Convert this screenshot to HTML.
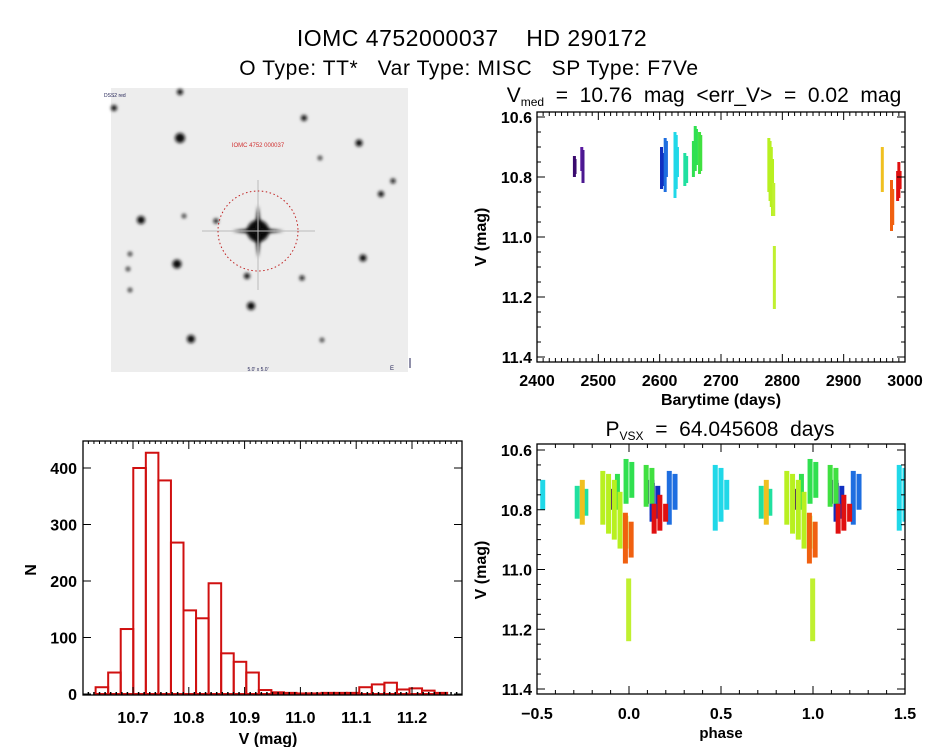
<!DOCTYPE html>
<html><head><meta charset="utf-8"><style>
body{margin:0;background:#fff;}
svg{display:block;font-family:"Liberation Sans",sans-serif;}
.pre{white-space:pre;}
</style></head><body>
<svg id="s" width="944" height="747" viewBox="0 0 944 747" xmlns="http://www.w3.org/2000/svg">
<defs>
<filter id="blur1"><feGaussianBlur stdDeviation="1.6"/></filter>
</defs>
<text class="pre" x="472" y="46" font-size="23" letter-spacing="0.5" text-anchor="middle">IOMC 4752000037    HD 290172</text>
<text class="pre" x="469" y="75" font-size="21" letter-spacing="0.6" text-anchor="middle">O Type: TT*   Var Type: MISC   SP Type: F7Ve</text>
<g>
<rect x="111" y="88" width="297" height="284" fill="#ededed"/>
<g id="stars" filter="url(#blur1)"></g>
<g fill="#111"><path d="M258 205 L261 228 L284 231 L261 234 L258 258 L255 234 L232 231 L255 228 Z" filter="url(#blur1)"/></g>
<line x1="202" y1="231" x2="315" y2="231" stroke="#bbb" stroke-width="1"/>
<line x1="258" y1="180" x2="258" y2="290" stroke="#bbb" stroke-width="1"/>
<circle cx="258" cy="231" r="40" fill="none" stroke="#c02020" stroke-width="1" stroke-dasharray="1.5 2.5"/>
<text x="258" y="147" font-size="6" fill="#d03030" text-anchor="middle">IOMC 4752 000037</text>
<text x="104" y="97" font-size="5" fill="#225">DSS2 red</text>
<text x="258" y="371" font-size="5" fill="#225" text-anchor="middle">5.0' x 5.0'</text>
<text x="390" y="370" font-size="6" fill="#225">E</text>
<line x1="410" y1="358" x2="410" y2="368" stroke="#225"/>
</g>
<g id="tr"></g><g id="br"></g><g id="hist"></g>
</svg>
<script>
// ---- light curve data: one entry per observing night ----
const nightTimes = [2461,2462,2473,2475,2603,2605,2609,2611,2625,2627,2629,2641,2644,2655,2658,2660,2665,2667,2778,2780,2782,2784,2786,2787,2963,2978,2980,2988,2990,2992];
const nightMin   = [10.73,10.74,10.70,10.71,10.70,10.72,10.67,10.68,10.65,10.66,10.70,10.72,10.73,10.68,10.63,10.64,10.65,10.66,10.67,10.68,10.70,10.74,10.82,11.03,10.70,10.81,10.84,10.78,10.75,10.78];
const nightMax   = [10.80,10.79,10.78,10.82,10.84,10.83,10.85,10.80,10.87,10.84,10.80,10.83,10.82,10.80,10.78,10.76,10.79,10.78,10.85,10.88,10.90,10.93,10.93,11.24,10.85,10.98,10.96,10.88,10.87,10.84];
const nightColor = ["#3a0a6e","#3a0a6e","#5a1aa0","#4b1890","#1030c0","#1030c0","#1e6ee0","#1e6ee0","#20d8e8","#20d8e8","#20d8e8","#20e0a0","#20e0a0","#30e050","#30e050","#30e050","#40e040","#40e040","#b8f020","#b8f020","#b8f020","#b8f020","#c0f030","#c0f030","#f0c020","#f06010","#f06010","#e01010","#e01010","#e01010"];
const period = 64.045608;
const epoch = 2594.98;
// ---- histogram data ----
const binStart = 10.633, binWidth = 0.0225;
const binCounts = [12,38,115,400,427,378,268,148,134,196,72,57,38,7,3,2,1,1,2,2,2,12,17,20,8,10,6,2];
const histXTicks = ["10.7","10.8","10.9","11.0","11.1","11.2"];
const histYTicks = [0,100,200,300,400];
const magTicks = ["10.6","10.8","11.0","11.2","11.4"];
const timeTicks = [2400,2500,2600,2700,2800,2900,3000];
const phaseTicks = ["-0.5","0.0","0.5","1.0","1.5"];

const NS="http://www.w3.org/2000/svg";
function mk(tag,attrs,parent,txt){const e=document.createElementNS(NS,tag);for(const k in attrs)e.setAttribute(k,attrs[k]);if(txt!==undefined)e.textContent=txt;parent.appendChild(e);return e;}

const starG=document.getElementById('stars');
[[180,138,5],[141,220,4],[177,264,4.5],[191,339,4],[251,306,4],[247,276,3],[363,258,3.5],[359,143,3.5],[304,118,3],[381,194,3],[393,181,2.5],[302,278,2.5],[322,340,2],[184,216,2],[216,221,2.5],[130,254,2],[128,269,2],[130,290,2],[114,108,3],[180,92,3],[320,158,2],[258,231,11]].forEach(s=>{mk('circle',{cx:s[0],cy:s[1],r:s[2],fill:'#111'},starG);});

function frame(g,x0,y0,x1,y1,name){
  const r=mk('rect',{x:x0,y:y0,width:x1-x0,height:y1-y0,fill:'none',stroke:'#000','stroke-width':1.3},g);
  
  
}
function magAxis(g,x0,x1,ymap){
  for(let m=10.6;m<=11.401;m+=0.05){const y=ymap(m);const maj=Math.abs(Math.round(m*10)/10-m)<1e-6&&Math.round(m*10)%2===0;const L=maj?8:4;
    mk('line',{x1:x0,y1:y,x2:x0+L,y2:y,stroke:'#000'},g);mk('line',{x1:x1,y1:y,x2:x1-L,y2:y,stroke:'#000'},g);}
  magTicks.forEach(t=>{const lab=mk('text',{x:x0-5,y:ymap(+t)+6,'font-size':16,'text-anchor':'end','font-weight':'bold'},g,t);
    });
}

// ---- top-right: light curve ----
(function(){
  const g=document.getElementById('tr');
  const X0=537,X1=905,Y0=112,Y1=362;
  const xs=t=>X0+(t-2400)/600*(X1-X0);
  const ys=m=>117+(m-10.6)/0.8*(357-117);
  nightTimes.forEach((t,i)=>{
    const r=mk('rect',{x:xs(t)-1.5,y:ys(nightMin[i]),width:3,height:ys(nightMax[i])-ys(nightMin[i]),fill:nightColor[i]},g);
    
    
  });
  frame(g,X0,Y0,X1,Y1,'lightcurve-frame');
  magAxis(g,X0,X1,ys);
  for(let t=2400;t<=3000;t+=10){const x=xs(t);const L=t%100===0?8:4;mk('line',{x1:x,y1:Y1,x2:x,y2:Y1-L,stroke:'#000'},g);mk('line',{x1:x,y1:Y0,x2:x,y2:Y0+L,stroke:'#000'},g);}
  timeTicks.forEach(t=>{const l=mk('text',{x:xs(t),y:386,'font-size':16,'text-anchor':'middle','font-weight':'bold'},g,t);});
  const xt=mk('text',{x:721,y:405,'font-size':16,'text-anchor':'middle','font-weight':'bold'},g,'Barytime (days)');
  const yt=mk('text',{x:0,y:0,'font-size':16,'text-anchor':'middle','font-weight':'bold',transform:'translate(486,237) rotate(-90)'},g,'V (mag)');
  const tt=mk('text',{x:704,y:102,'font-size':21,'text-anchor':'middle',class:'pre'},g);
  mk('tspan',{},tt,'V');mk('tspan',{'font-size':12,dy:4},tt,'med');mk('tspan',{dy:-4},tt,'  =  10.76  mag  <err_V>  =  0.02  mag');
})();

// ---- bottom-right: phased ----
(function(){
  const g=document.getElementById('br');
  const X0=537,X1=905,Y0=444,Y1=694;
  const xs=p=>X0+(p+0.5)/2*(X1-X0);
  const ys=m=>450+(m-10.6)/0.8*(689-450);
  nightTimes.forEach((t,i)=>{
    let ph=((t-epoch)/period)%1; if(ph<0)ph+=1;
    [ph-1,ph,ph+1].forEach(p=>{ if(p<-0.5||p>1.5) return;
      const x=Math.max(X0,xs(p)-2.5);
      const r=mk('rect',{x:x,y:ys(nightMin[i]),width:Math.min(5,X1-x),height:ys(nightMax[i])-ys(nightMin[i]),fill:nightColor[i]},g);
      
      
    });
  });
  frame(g,X0,Y0,X1,Y1,'phase-frame');
  magAxis(g,X0,X1,ys);
  for(let k=0;k<=20;k++){const p=-0.5+k*0.1;const x=xs(p);const L=k%5===0?8:4;mk('line',{x1:x,y1:Y1,x2:x,y2:Y1-L,stroke:'#000'},g);mk('line',{x1:x,y1:Y0,x2:x,y2:Y0+L,stroke:'#000'},g);}
  phaseTicks.forEach(t=>{const l=mk('text',{x:xs(+t),y:719,'font-size':16,'text-anchor':'middle','font-weight':'bold'},g,t.replace('-','−'));});
  const xt=mk('text',{x:721,y:738,'font-size':15,'text-anchor':'middle','font-weight':'bold'},g,'phase');
  const yt=mk('text',{x:0,y:0,'font-size':16,'text-anchor':'middle','font-weight':'bold',transform:'translate(486,570) rotate(-90)'},g,'V (mag)');
  const tt=mk('text',{x:720,y:436,'font-size':21,'text-anchor':'middle',class:'pre'},g);
  mk('tspan',{},tt,'P');mk('tspan',{'font-size':12,dy:4},tt,'VSX');mk('tspan',{dy:-4},tt,'  =  64.045608  days');
})();

// ---- histogram ----
(function(){
  const g=document.getElementById('hist');
  const X0=83,X1=462,Y0=441,Y1=695;
  const xs=v=>133+(v-10.7)/0.1*55.8;
  const ys=n=>694-n*(694-468)/400;
  binCounts.forEach((c,i)=>{
    const a=binStart+i*binWidth;
    const r=mk('rect',{x:xs(a),y:ys(c),width:xs(a+binWidth)-xs(a),height:ys(0)-ys(c),fill:'none',stroke:'#d01010','stroke-width':2},g);
    
    
  });
  frame(g,X0,Y0,X1,Y1,'histogram-frame');
  for(let k=0;;k++){const v=10.62+k*0.01;if(v>11.285)break;const x=xs(v);const maj=Math.round(v*100)%10===0;const L=maj?8:3;mk('line',{x1:x,y1:Y1,x2:x,y2:Y1-L,stroke:'#000','stroke-width':maj?1:1.5},g);mk('line',{x1:x,y1:Y0,x2:x,y2:Y0+L,stroke:'#000'},g);}
  histYTicks.forEach(n=>{const y=ys(n);mk('line',{x1:X0,y1:y,x2:X0+8,y2:y,stroke:'#000'},g);mk('line',{x1:X1,y1:y,x2:X1-8,y2:y,stroke:'#000'},g);
    const l=mk('text',{x:77,y:y+6,'font-size':16,'text-anchor':'end','font-weight':'bold'},g,n);});
  histXTicks.forEach(t=>{const l=mk('text',{x:xs(+t),y:723,'font-size':16,'text-anchor':'middle','font-weight':'bold'},g,t);});
  const xt=mk('text',{x:268,y:744,'font-size':16,'text-anchor':'middle','font-weight':'bold'},g,'V (mag)');
  const yt=mk('text',{x:0,y:0,'font-size':16,'text-anchor':'middle','font-weight':'bold',transform:'translate(36,570) rotate(-90)'},g,'N');
})();
</script>
</body></html>
